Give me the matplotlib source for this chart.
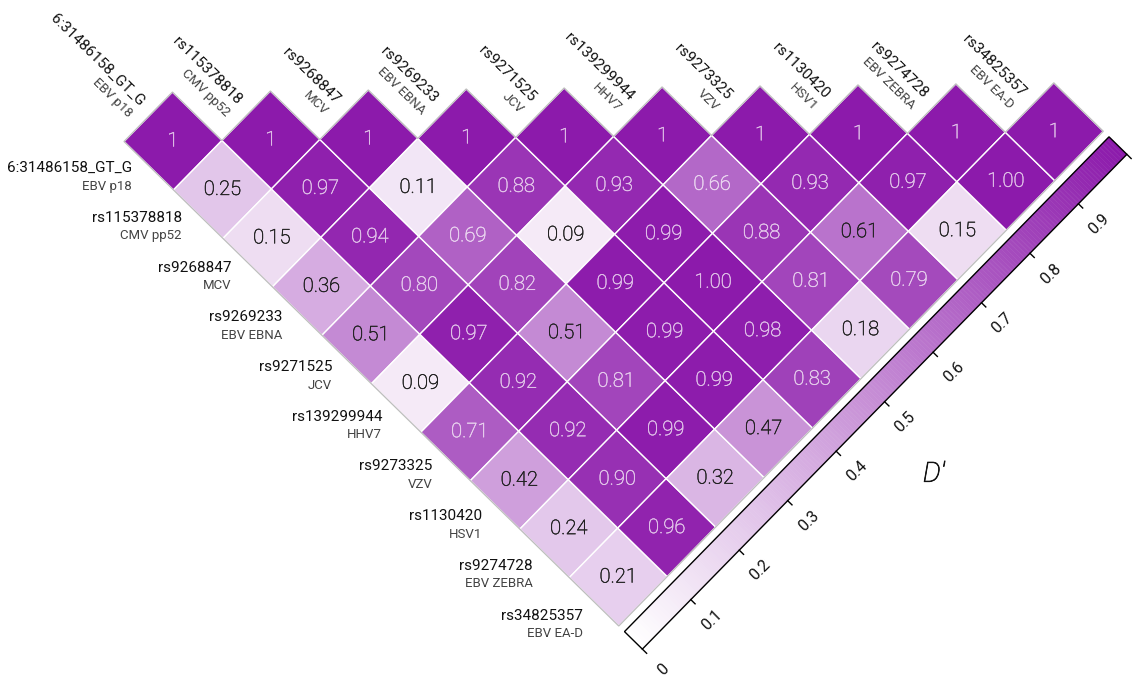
import numpy as np
import matplotlib
matplotlib.use("Agg")
import matplotlib.pyplot as plt
import matplotlib.patheffects as pe
from matplotlib.patches import Polygon
from matplotlib.collections import PolyCollection
from matplotlib.colors import LinearSegmentedColormap

# ---- data -------------------------------------------------------------
snp_ids = ["6:31486158_GT_G", "rs115378818", "rs9268847", "rs9269233",
           "rs9271525", "rs139299944", "rs9273325", "rs1130420",
           "rs9274728", "rs34825357"]
antigens = ["EBV p18", "CMV pp52", "MCV", "EBV EBNA", "JCV", "HHV7",
            "VZV", "HSV1", "EBV ZEBRA", "EBV EA-D"]

# D' of each SNP with every SNP further along the list
dprime_snp0 = [0.25, 0.15, 0.36, 0.51, 0.09, 0.71, 0.42, 0.24, 0.21]
dprime_snp1 = [0.97, 0.94, 0.80, 0.97, 0.92, 0.92, 0.90, 0.96]
dprime_snp2 = [0.11, 0.69, 0.82, 0.51, 0.81, 0.99, 0.32]
dprime_snp3 = [0.88, 0.09, 0.99, 0.99, 0.99, 0.47]
dprime_snp4 = [0.93, 0.99, 1.00, 0.98, 0.83]
dprime_snp5 = [0.66, 0.88, 0.81, 0.18]
dprime_snp6 = [0.93, 0.61, 0.79]
dprime_snp7 = [0.97, 0.15]
dprime_snp8 = [1.00]

cbar_ticks = [0.0, 0.1, 0.2, 0.3, 0.4, 0.5, 0.6, 0.7, 0.8, 0.9]
cbar_ticklabels = ["0", "0.1", "0.2", "0.3", "0.4", "0.5", "0.6", "0.7", "0.8", "0.9"]

# ---- build the symmetric LD matrix -----------------------------------
n = len(snp_ids)
upper_rows = [dprime_snp0, dprime_snp1, dprime_snp2, dprime_snp3, dprime_snp4,
              dprime_snp5, dprime_snp6, dprime_snp7, dprime_snp8]
ld = np.eye(n)
for i, row in enumerate(upper_rows):
    for k, v in enumerate(row):
        ld[i, i + 1 + k] = v
        ld[i + 1 + k, i] = v

# ---- styling -----------------------------------------------------------
plt.rcParams['font.family'] = ['Roboto', 'Liberation Sans', 'DejaVu Sans']
cmap = LinearSegmentedColormap.from_list("dprime", ["#ffffff", "#8c1aab"])
dark_text = np.array([0.13, 0.13, 0.13])

fig = plt.figure(figsize=(11.38, 6.79), dpi=100)
ax = fig.add_axes([0, 0, 1, 1])
ax.set_xlim(0, 1138)
ax.set_ylim(679, 0)
ax.axis("off")

# rotated grid: each cell is a square turned by ~45 degrees
side = 69.25
ang = np.deg2rad(44.4)
bhat = np.array([np.cos(ang), np.sin(ang)])      # down-right on screen
ahat = np.array([np.sin(ang), -np.cos(ang)])     # up-right on screen
A = side * ahat
B = side * bhat
origin = np.array([124.0, 141.5])


def grid_pt(p, q):
    return origin + p * A + q * B


# cells
for i in range(n):
    for j in range(i, n):
        corners = [grid_pt(i, j), grid_pt(i + 1, j),
                   grid_pt(i + 1, j + 1), grid_pt(i, j + 1)]
        val = ld[i, j]
        bg = np.array(cmap(val)[:3])
        ax.add_patch(Polygon(corners, closed=True, facecolor=bg,
                             edgecolor="white", linewidth=1.0, zorder=2))
        c = grid_pt(i + 0.5, j + 0.5)
        txt = "1" if i == j else f"{val:.2f}"
        # pale lavender text on dark cells, near-black text on pale cells
        col = 0.72 * np.ones(3) + 0.28 * bg if val >= 0.63 else dark_text
        ax.text(c[0], c[1], txt, ha="center", va="center", fontsize=14.5,
                fontweight="light", color=col, zorder=4,
                path_effects=[pe.withStroke(linewidth=0.35, foreground=col)])

# thin grey outline of the whole triangle
outline = [grid_pt(0, 0)]
for k in range(n):
    outline.append(grid_pt(k + 1, k))
    outline.append(grid_pt(k + 1, k + 1))
outline.append(grid_pt(0, n))
ax.add_patch(Polygon(outline, closed=True, fill=False, edgecolor="#bdbdbd",
                     linewidth=0.9, zorder=3))

# labels along the top edge (rotated)
rot = -np.rad2deg(ang)
for k in range(n):
    m = origin + (k + 0.5) * A + k * B
    p_name = m - 14 * bhat + 5 * ahat
    p_sub = m - 14 * bhat - 12 * ahat
    ax.text(p_name[0], p_name[1], snp_ids[k], rotation=rot, rotation_mode="anchor",
            ha="right", va="center", fontsize=11, color="#111111")
    ax.text(p_sub[0], p_sub[1], antigens[k], rotation=rot, rotation_mode="anchor",
            ha="right", va="center", fontsize=9.5, color="#444444")

# labels along the left edge (horizontal)
left_start = grid_pt(0, 0.5) + np.array([-17.0, 2.5])
left_step = np.array([50.1, 49.7])
for k in range(n):
    p = left_start + k * left_step
    ax.text(p[0], p[1], snp_ids[k], ha="right", va="center",
            fontsize=11, color="#111111")
    ax.text(p[0], p[1] + 18, antigens[k], ha="right", va="center",
            fontsize=9.5, color="#444444")

# colour bar running parallel to the lower-right edge
gap, width = 8.0, 25.0
bar_len = 10 * A
p0 = grid_pt(0, n) + gap * bhat
steps = np.linspace(0, 1, 201)
quads, cols = [], []
for v0, v1 in zip(steps[:-1], steps[1:]):
    quads.append([p0 + v0 * bar_len, p0 + v1 * bar_len,
                  p0 + v1 * bar_len + width * bhat, p0 + v0 * bar_len + width * bhat])
    cols.append(cmap(0.5 * (v0 + v1)))
ax.add_collection(PolyCollection(quads, facecolors=cols, edgecolors=cols,
                                 linewidths=0.3, zorder=2))
ax.add_patch(Polygon([p0, p0 + bar_len, p0 + bar_len + width * bhat, p0 + width * bhat],
                     closed=True, fill=False, edgecolor="black", linewidth=1.0, zorder=3))

outer0 = p0 + width * bhat
for v in cbar_ticks + [1.0]:
    s = outer0 + v * bar_len
    e = s + 6 * bhat
    ax.plot([s[0], e[0]], [s[1], e[1]], color="black", lw=1.0, zorder=3)
for v, lab in zip(cbar_ticks, cbar_ticklabels):
    s = outer0 + v * bar_len + 29 * bhat
    ax.text(s[0], s[1], lab, rotation=np.rad2deg(ang), rotation_mode="anchor",
            ha="center", va="center", fontsize=11.5, color="#111111")

dl = outer0 + 0.475 * bar_len + 86 * bhat
ax.text(dl[0], dl[1], "D'", ha="center", va="center", fontsize=20,
        fontstyle="italic", fontweight="light", color="#111111",
        path_effects=[pe.withStroke(linewidth=0.5, foreground="#111111")])

fig.savefig("out.png", dpi=100)
